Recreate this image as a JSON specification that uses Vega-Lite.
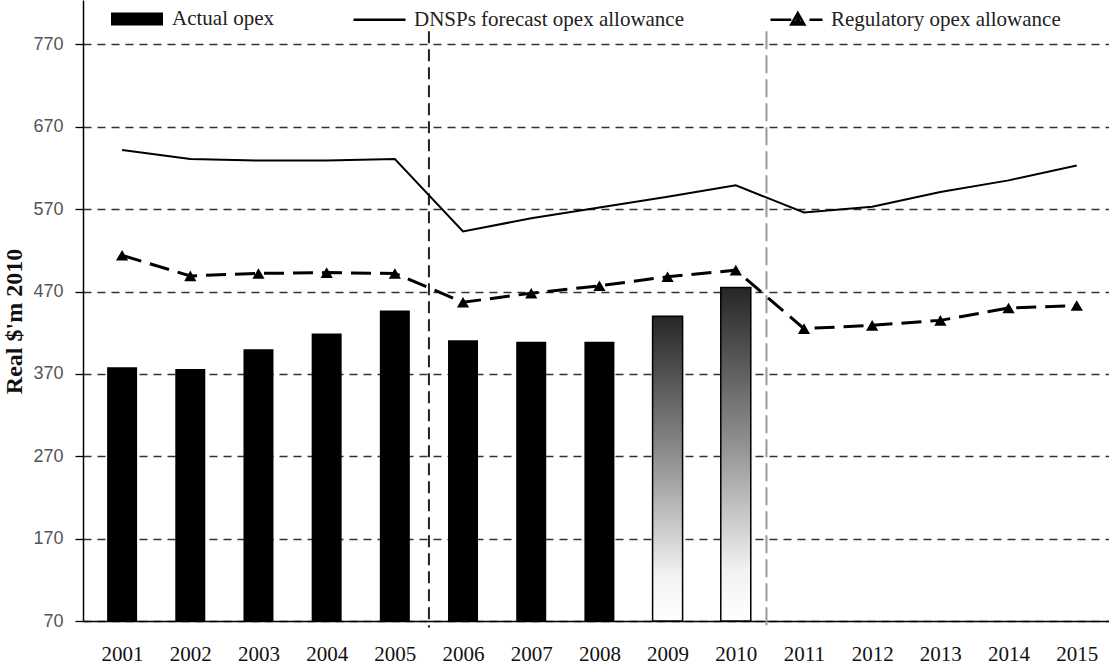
{
  "$schema": "https://vega.github.io/schema/vega-lite/v6.json",
  "width": 1026,
  "height": 621,
  "autosize": {"type": "none"},
  "padding": {"left": 83, "top": 0, "right": 0, "bottom": 47},
  "background": "white",
  "config": {"view": {"stroke": null}, "font": "Liberation Serif"},
  "datasets": {
    "opex": [
      {"year": 2001, "series": "Actual opex", "status": "actual", "value": 378},
      {"year": 2002, "series": "Actual opex", "status": "actual", "value": 376},
      {"year": 2003, "series": "Actual opex", "status": "actual", "value": 400},
      {"year": 2004, "series": "Actual opex", "status": "actual", "value": 419},
      {"year": 2005, "series": "Actual opex", "status": "actual", "value": 447},
      {"year": 2006, "series": "Actual opex", "status": "actual", "value": 411},
      {"year": 2007, "series": "Actual opex", "status": "actual", "value": 409},
      {"year": 2008, "series": "Actual opex", "status": "actual", "value": 409},
      {"year": 2009, "series": "Actual opex", "status": "estimated", "value": 440},
      {"year": 2010, "series": "Actual opex", "status": "estimated", "value": 475},
      {"year": 2001, "series": "DNSPs forecast opex allowance", "value": 642},
      {"year": 2002, "series": "DNSPs forecast opex allowance", "value": 631},
      {"year": 2003, "series": "DNSPs forecast opex allowance", "value": 629},
      {"year": 2004, "series": "DNSPs forecast opex allowance", "value": 629},
      {"year": 2005, "series": "DNSPs forecast opex allowance", "value": 631},
      {"year": 2006, "series": "DNSPs forecast opex allowance", "value": 543},
      {"year": 2007, "series": "DNSPs forecast opex allowance", "value": 559},
      {"year": 2008, "series": "DNSPs forecast opex allowance", "value": 572},
      {"year": 2009, "series": "DNSPs forecast opex allowance", "value": 585},
      {"year": 2010, "series": "DNSPs forecast opex allowance", "value": 599},
      {"year": 2011, "series": "DNSPs forecast opex allowance", "value": 566},
      {"year": 2012, "series": "DNSPs forecast opex allowance", "value": 573},
      {"year": 2013, "series": "DNSPs forecast opex allowance", "value": 591},
      {"year": 2014, "series": "DNSPs forecast opex allowance", "value": 605},
      {"year": 2015, "series": "DNSPs forecast opex allowance", "value": 623},
      {"year": 2001, "series": "Regulatory opex allowance", "value": 514},
      {"year": 2002, "series": "Regulatory opex allowance", "value": 489},
      {"year": 2003, "series": "Regulatory opex allowance", "value": 492},
      {"year": 2004, "series": "Regulatory opex allowance", "value": 493},
      {"year": 2005, "series": "Regulatory opex allowance", "value": 492},
      {"year": 2006, "series": "Regulatory opex allowance", "value": 457},
      {"year": 2007, "series": "Regulatory opex allowance", "value": 468},
      {"year": 2008, "series": "Regulatory opex allowance", "value": 477},
      {"year": 2009, "series": "Regulatory opex allowance", "value": 488},
      {"year": 2010, "series": "Regulatory opex allowance", "value": 496},
      {"year": 2011, "series": "Regulatory opex allowance", "value": 425},
      {"year": 2012, "series": "Regulatory opex allowance", "value": 429},
      {"year": 2013, "series": "Regulatory opex allowance", "value": 435},
      {"year": 2014, "series": "Regulatory opex allowance", "value": 450},
      {"year": 2015, "series": "Regulatory opex allowance", "value": 453}
    ],
    "periods": [
      {"boundary": 2005.5, "line": "first"},
      {"boundary": 2010.45, "line": "second"}
    ]
  },
  "layer": [
    {
      "data": {"name": "opex"},
      "transform": [{"filter": "datum.series === 'Actual opex' && datum.status === 'actual'"}],
      "mark": {"type": "bar", "size": 30},
      "encoding": {
        "x": {
          "field": "year", "type": "quantitative",
          "scale": {"domain": [2000.5, 2015.4], "nice": false, "zero": false},
          "axis": {
            "values": [2001, 2002, 2003, 2004, 2005, 2006, 2007, 2008, 2009, 2010, 2011, 2012, 2013, 2014, 2015],
            "format": "d", "title": null, "grid": false,
            "labelFont": "Liberation Serif", "labelFontSize": 21, "labelColor": "#111",
            "tickSize": 0, "labelPadding": 22, "labelFlush": false,
            "domainColor": "black", "domainWidth": 1.5
          }
        },
        "y": {
          "field": "value", "type": "quantitative",
          "scale": {"domain": [70, 824], "nice": false, "zero": false},
          "axis": {
            "values": [70, 170, 270, 370, 470, 570, 670, 770],
            "title": "Real $'m 2010",
            "titleFont": "Liberation Serif", "titleFontSize": 24, "titleFontWeight": "bold", "titleColor": "#111", "titlePadding": 6, "titleY": 321,
            "labelFont": "Liberation Sans", "labelFontSize": 18, "labelColor": "#555", "labelPadding": 12,
            "tickSize": 8, "tickColor": "black", "tickWidth": 1.3,
            "domainColor": "black", "domainWidth": 1.5,
            "grid": true, "gridDash": [8, 6], "gridColor": "#333", "gridWidth": 1.4
          }
        },
        "y2": {"datum": 70},
        "color": {
          "field": "series", "type": "nominal",
          "scale": {"domain": ["Actual opex"], "range": ["black"]},
          "legend": {
            "orient": "none", "legendX": 27, "legendY": -8, "title": null,
            "symbolType": "M-1,-0.25H1V0.25H-1Z", "symbolSize": 2704,
            "labelFont": "Liberation Serif", "labelFontSize": 21, "labelColor": "#222", "labelOffset": 8, "labelLimit": 400,
            "padding": 0
          }
        }
      }
    },
    {
      "data": {"name": "opex"},
      "transform": [{"filter": "datum.series === 'Actual opex' && datum.status === 'estimated'"}],
      "mark": {
        "type": "bar", "size": 30, "stroke": "black", "strokeWidth": 1.5,
        "fill": {
          "gradient": "linear", "x1": 0, "y1": 0, "x2": 0, "y2": 1,
          "stops": [
            {"offset": 0, "color": "#262626"},
            {"offset": 0.45, "color": "#8c8c8c"},
            {"offset": 0.85, "color": "#f2f2f2"},
            {"offset": 1, "color": "#ffffff"}
          ]
        }
      },
      "encoding": {
        "x": {"field": "year", "type": "quantitative", "scale": {"domain": [2000.5, 2015.4], "nice": false, "zero": false}},
        "y": {"field": "value", "type": "quantitative", "scale": {"domain": [70, 824], "nice": false, "zero": false}},
        "y2": {"datum": 70}
      }
    },
    {
      "data": {"name": "periods"},
      "mark": {"type": "rule", "strokeWidth": 2},
      "encoding": {
        "x": {"field": "boundary", "type": "quantitative", "scale": {"domain": [2000.5, 2015.4], "nice": false, "zero": false}},
        "y": {"datum": 786, "type": "quantitative", "scale": {"domain": [70, 824], "nice": false, "zero": false}},
        "y2": {"datum": 62},
        "stroke": {"field": "line", "type": "nominal", "scale": {"domain": ["first", "second"], "range": ["#222222", "#9a9a9a"]}, "legend": null},
        "strokeDash": {"field": "line", "type": "nominal", "scale": {"domain": ["first", "second"], "range": [[12, 6], [18, 6]]}, "legend": null}
      }
    },
    {
      "data": {"name": "opex"},
      "transform": [{"filter": "datum.series === 'DNSPs forecast opex allowance'"}],
      "mark": {"type": "line", "color": "black", "strokeWidth": 2},
      "encoding": {
        "x": {"field": "year", "type": "quantitative", "scale": {"domain": [2000.5, 2015.4], "nice": false, "zero": false}},
        "y": {"field": "value", "type": "quantitative", "scale": {"domain": [70, 824], "nice": false, "zero": false}}
      }
    },
    {
      "data": {"name": "opex"},
      "transform": [{"filter": "datum.series === 'Regulatory opex allowance'"}],
      "mark": {"type": "line", "color": "black", "strokeWidth": 3, "strokeDash": [20, 9]},
      "encoding": {
        "x": {"field": "year", "type": "quantitative", "scale": {"domain": [2000.5, 2015.4], "nice": false, "zero": false}},
        "y": {"field": "value", "type": "quantitative", "scale": {"domain": [70, 824], "nice": false, "zero": false}}
      }
    },
    {
      "data": {"name": "opex"},
      "transform": [{"filter": "datum.series === 'Regulatory opex allowance'"}],
      "mark": {"type": "point", "shape": "triangle-up", "filled": true, "color": "black", "size": 150, "opacity": 1},
      "encoding": {
        "x": {"field": "year", "type": "quantitative", "scale": {"domain": [2000.5, 2015.4], "nice": false, "zero": false}},
        "y": {"field": "value", "type": "quantitative", "scale": {"domain": [70, 824], "nice": false, "zero": false}}
      }
    },
    {
      "data": {"name": "opex"},
      "transform": [{"filter": "datum.series !== 'Actual opex'"}],
      "mark": {"type": "point", "filled": false, "color": "black", "strokeWidth": 2.5, "opacity": 0},
      "encoding": {
        "x": {"field": "year", "type": "quantitative", "scale": {"domain": [2000.5, 2015.4], "nice": false, "zero": false}},
        "y": {"field": "value", "type": "quantitative", "scale": {"domain": [70, 824], "nice": false, "zero": false}},
        "shape": {
          "field": "series", "type": "nominal",
          "scale": {
            "domain": ["DNSPs forecast opex allowance", "Regulatory opex allowance"],
            "range": ["M-1,0H1", "M-1,0H-0.2M-0.2,0.18L0.05,-0.26L0.3,0.18ZM-0.12,0.1H0.22M-0.04,0H0.14M0.05,-0.16V0.18M0.5,0H1"]
          },
          "legend": {
            "orient": "none", "legendX": 269, "legendY": -8, "title": null, "direction": "horizontal",
            "symbolSize": 2704, "columnPadding": 80,
            "symbolStrokeColor": "black", "symbolStrokeWidth": 2.5,
            "labelFont": "Liberation Serif", "labelFontSize": 21, "labelColor": "#222", "labelOffset": 7, "labelLimit": 400,
            "padding": 0
          }
        }
      }
    }
  ]
}
